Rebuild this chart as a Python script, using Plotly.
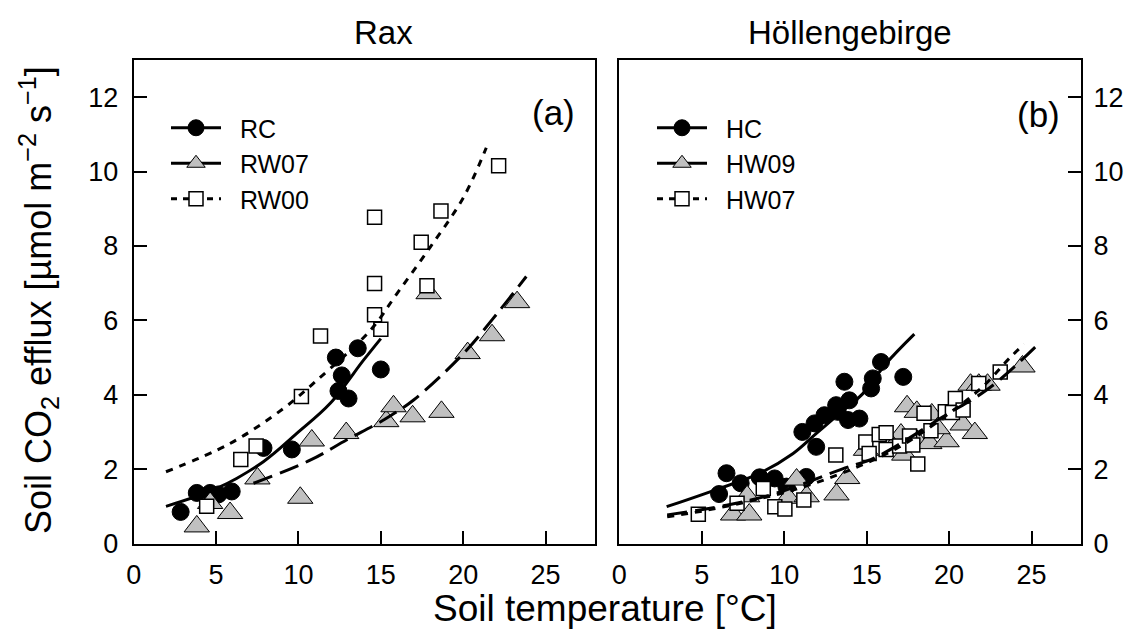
import plotly.graph_objects as go

# ---------------- data: Rax (panel a) ----------------
rc_x = [2.85, 3.83, 4.64, 5.14, 5.95, 7.88, 9.6, 12.27, 12.63, 12.43, 13.04, 13.6, 15.0]
rc_y = [0.85, 1.36, 1.36, 1.32, 1.40, 2.57, 2.53, 5.0, 4.52, 4.1, 3.90, 5.25, 4.68]

rw07_x = [3.83, 4.64, 5.85, 7.51, 10.11, 10.81, 12.9, 15.33, 15.77, 16.93, 17.9, 18.68, 20.27, 21.75, 23.27]
rw07_y = [0.46, 1.09, 0.82, 1.75, 1.23, 2.77, 2.97, 3.29, 3.69, 3.42, 6.73, 3.54, 5.12, 5.6, 6.49]

rw00_x = [4.43, 6.5, 7.43, 10.18, 11.34, 14.62, 14.62, 14.62, 15.0, 17.45, 17.8, 18.65, 22.15]
rw00_y = [1.0, 2.26, 2.62, 3.95, 5.58, 8.77, 6.99, 6.15, 5.76, 8.10, 6.93, 8.94, 10.16]

# fitted curves
rc_fit_x = [1.96, 5.04, 7.87, 9.9, 11.93, 13.95, 15.0]
rc_fit_y = [1.0, 1.48, 2.2, 2.96, 3.77, 4.93, 5.51]

rw07_fit_x = [7.27, 10.71, 12.94, 15.16, 16.99, 20.02, 22.05, 23.83]
rw07_fit_y = [1.62, 2.24, 2.79, 3.32, 3.86, 5.11, 6.18, 7.18]

rw00_fit_x = [1.96, 5.85, 9.09, 11.12, 14.36, 15.98, 18.0, 20.02, 21.4]
rw00_fit_y = [1.93, 2.69, 3.63, 4.39, 5.73, 6.72, 7.97, 9.31, 10.64]

# ---------------- data: Höllengebirge (panel b) ----------------
hc_x = [6.05, 6.5, 7.36, 8.51, 9.42, 10.13, 11.34, 11.1, 11.84, 11.94, 12.44, 13.15,
        13.65, 13.25, 13.95, 14.56, 13.87, 15.37, 15.27, 15.87, 17.22]
hc_y = [1.33, 1.89, 1.62, 1.78, 1.75, 1.53, 1.79, 3.0, 3.23, 2.6, 3.45, 3.72,
        4.35, 3.54, 3.85, 3.36, 3.32, 4.44, 4.17, 4.88, 4.48]

hw09_x = [6.9, 7.88, 7.75, 10.24, 10.75, 11.36, 13.17, 13.82, 14.96, 17.45, 18.04, 18.95,
          17.08, 18.0, 17.28, 18.8, 19.85, 20.82, 21.56, 21.3, 21.8, 22.33, 24.45, 16.6, 19.3]
hw09_y = [0.78, 0.78, 1.27, 1.23, 1.72, 1.27, 1.32, 1.76, 2.52, 3.69, 3.54, 3.47,
          2.93, 2.79, 2.39, 2.7, 2.75, 3.2, 2.97, 4.27, 4.27, 4.27, 4.76, 2.6, 3.1]

hw07_x = [4.79, 7.14, 8.73, 9.43, 10.04, 11.19, 13.13, 14.95, 15.15, 15.76, 16.18, 16.18,
          17.0, 17.6, 17.8, 18.1, 18.48, 18.9, 19.77, 20.38, 20.2, 20.85, 21.8, 23.1]
hw07_y = [0.79, 1.08, 1.48, 0.99, 0.93, 1.17, 2.38, 2.73, 2.42, 2.93, 2.98, 2.53,
          2.62, 2.89, 2.65, 2.14, 3.5, 3.03, 3.54, 3.9, 3.52, 3.59, 4.3, 4.61]

hc_fit_x = [2.87, 5.5, 8.52, 10.54, 11.95, 13.36, 14.77, 16.18, 17.89]
hc_fit_y = [0.99, 1.39, 1.89, 2.42, 2.96, 3.5, 4.03, 4.84, 5.63]

hw09_fit_x = [2.9, 6.5, 9.5, 13.5, 15.6, 19.6, 22.5, 25.45]
hw09_fit_y = [0.77, 1.03, 1.35, 2.0, 2.33, 3.4, 4.2, 5.38]

hw07_fit_x = [2.9, 5.0, 8.0, 11.0, 14.0, 17.0, 20.0, 22.0, 23.7, 24.55]
hw07_fit_y = [0.72, 0.87, 1.15, 1.5, 1.98, 2.6, 3.5, 4.2, 5.0, 5.36]

x_ticks = [0, 5, 10, 15, 20, 25]
y_ticks = [0, 2, 4, 6, 8, 10, 12]

FONT = "Liberation Sans, Arial, sans-serif"
GRAY = "#c0c0c0"
PAD = "\u00a0\u00a0"

circle = dict(symbol="circle", size=17, color="black", line=dict(color="black", width=1))
tri = dict(symbol="triangle-up", size=22, color=GRAY, line=dict(color="black", width=1))
sq = dict(symbol="square", size=14, color="white", line=dict(color="black", width=1.5))

solid = dict(color="black", width=3)
longdash = dict(color="black", width=3, dash="20px,8px")
dotted = dict(color="black", width=3, dash="7px,7px")

fig = go.Figure()

def panel(xa, ya, cx, cy, tx, ty, sx, sy, fits, names, legend):
    fig.add_trace(go.Scatter(x=cx, y=cy, mode="markers", marker=circle, xaxis=xa, yaxis=ya, showlegend=False))
    fig.add_trace(go.Scatter(x=tx, y=ty, mode="markers", marker=tri, xaxis=xa, yaxis=ya, showlegend=False))
    fig.add_trace(go.Scatter(x=sx, y=sy, mode="markers", marker=sq, xaxis=xa, yaxis=ya, showlegend=False))
    styles = [solid, longdash, dotted]
    for (fx, fy), st in zip(fits, styles):
        fig.add_trace(go.Scatter(x=fx, y=fy, mode="lines", line=dict(st, shape="spline", smoothing=1.0),
                                 xaxis=xa, yaxis=ya, showlegend=False))
    # legend-only entries
    leg_lines = [solid, dict(color="black", width=3), dict(color="black", width=3, dash="6px,6px")]
    for nm, mk, ln in zip(names, [circle, tri, sq], leg_lines):
        fig.add_trace(go.Scatter(x=[None], y=[None], mode="lines+markers", name=PAD + nm, marker=mk, line=ln,
                                 xaxis=xa, yaxis=ya, legend=legend))

panel("x", "y", rc_x, rc_y, rw07_x, rw07_y, rw00_x, rw00_y,
      [(rc_fit_x, rc_fit_y), (rw07_fit_x, rw07_fit_y), (rw00_fit_x, rw00_fit_y)],
      ["RC", "RW07", "RW00"], "legend")
panel("x2", "y2", hc_x, hc_y, hw09_x, hw09_y, hw07_x, hw07_y,
      [(hc_fit_x, hc_fit_y), (hw09_fit_x, hw09_fit_y), (hw07_fit_x, hw07_fit_y)],
      ["HC", "HW09", "HW07"], "legend2")

ax_common = dict(showline=True, linewidth=2, linecolor="black", mirror=True, ticks="inside",
                 ticklen=13, tickwidth=1.5, tickcolor="black", showgrid=False, zeroline=False,
                 automargin=False, tickfont=dict(family=FONT, size=27, color="black"))

xd1 = [0.1182, 0.5261]
xd2 = [0.5476, 0.9558]
yd = [0.1534, 0.9065]

leg_common = dict(xanchor="left", yanchor="top", bgcolor="rgba(0,0,0,0)",
                  font=dict(family=FONT, size=25, color="black"), itemwidth=50, tracegroupgap=0)

fig.update_layout(
    width=1131, height=642,
    margin=dict(l=0, r=0, t=0, b=0, autoexpand=False),
    paper_bgcolor="white", plot_bgcolor="white",
    font=dict(family=FONT, color="black"),
    xaxis=dict(ax_common, domain=xd1, range=[0, 28], tickvals=x_ticks, anchor="y", ticklabelstandoff=6),
    yaxis=dict(ax_common, domain=yd, range=[0, 13], tickvals=y_ticks, anchor="x", ticklabelstandoff=8),
    xaxis2=dict(ax_common, domain=xd2, range=[0, 28], tickvals=x_ticks, anchor="y2", ticklabelstandoff=6),
    yaxis2=dict(ax_common, domain=yd, range=[0, 13], tickvals=y_ticks, anchor="x2", side="right",
                ticklabelstandoff=5),
    legend=dict(leg_common, x=166 / 1131, y=1 - 105 / 642),
    legend2=dict(leg_common, x=652 / 1131, y=1 - 105 / 642),
)

ann = [
    dict(text="Rax", x=383 / 1131, y=1 - 32 / 642, size=33),
    dict(text="Höllengebirge", x=850 / 1131, y=1 - 32 / 642, size=33),
    dict(text="Soil temperature [°C]", x=605 / 1131, y=1 - 608 / 642, size=37),
    dict(text="(a)", x=553 / 1131, y=1 - 113 / 642, size=35),
    dict(text="(b)", x=1038 / 1131, y=1 - 115 / 642, size=35),
]
for a in ann:
    fig.add_annotation(text=a["text"], x=a["x"], y=a["y"], xref="paper", yref="paper",
                       xanchor="center", yanchor="middle", showarrow=False,
                       font=dict(family=FONT, size=a["size"], color="black"))
fig.add_annotation(text="Soil CO<sub>2</sub> efflux [µmol m<sup>−2</sup> s<sup>−1</sup>]",
                   x=38 / 1131, y=1 - 300 / 642, xref="paper", yref="paper", textangle=-90,
                   xanchor="center", yanchor="middle", showarrow=False,
                   font=dict(family=FONT, size=36, color="black"))

fig.write_html("out.html", config={"displayModeBar": False},
               post_script="document.body.style.margin='0';document.body.style.padding='0';")
